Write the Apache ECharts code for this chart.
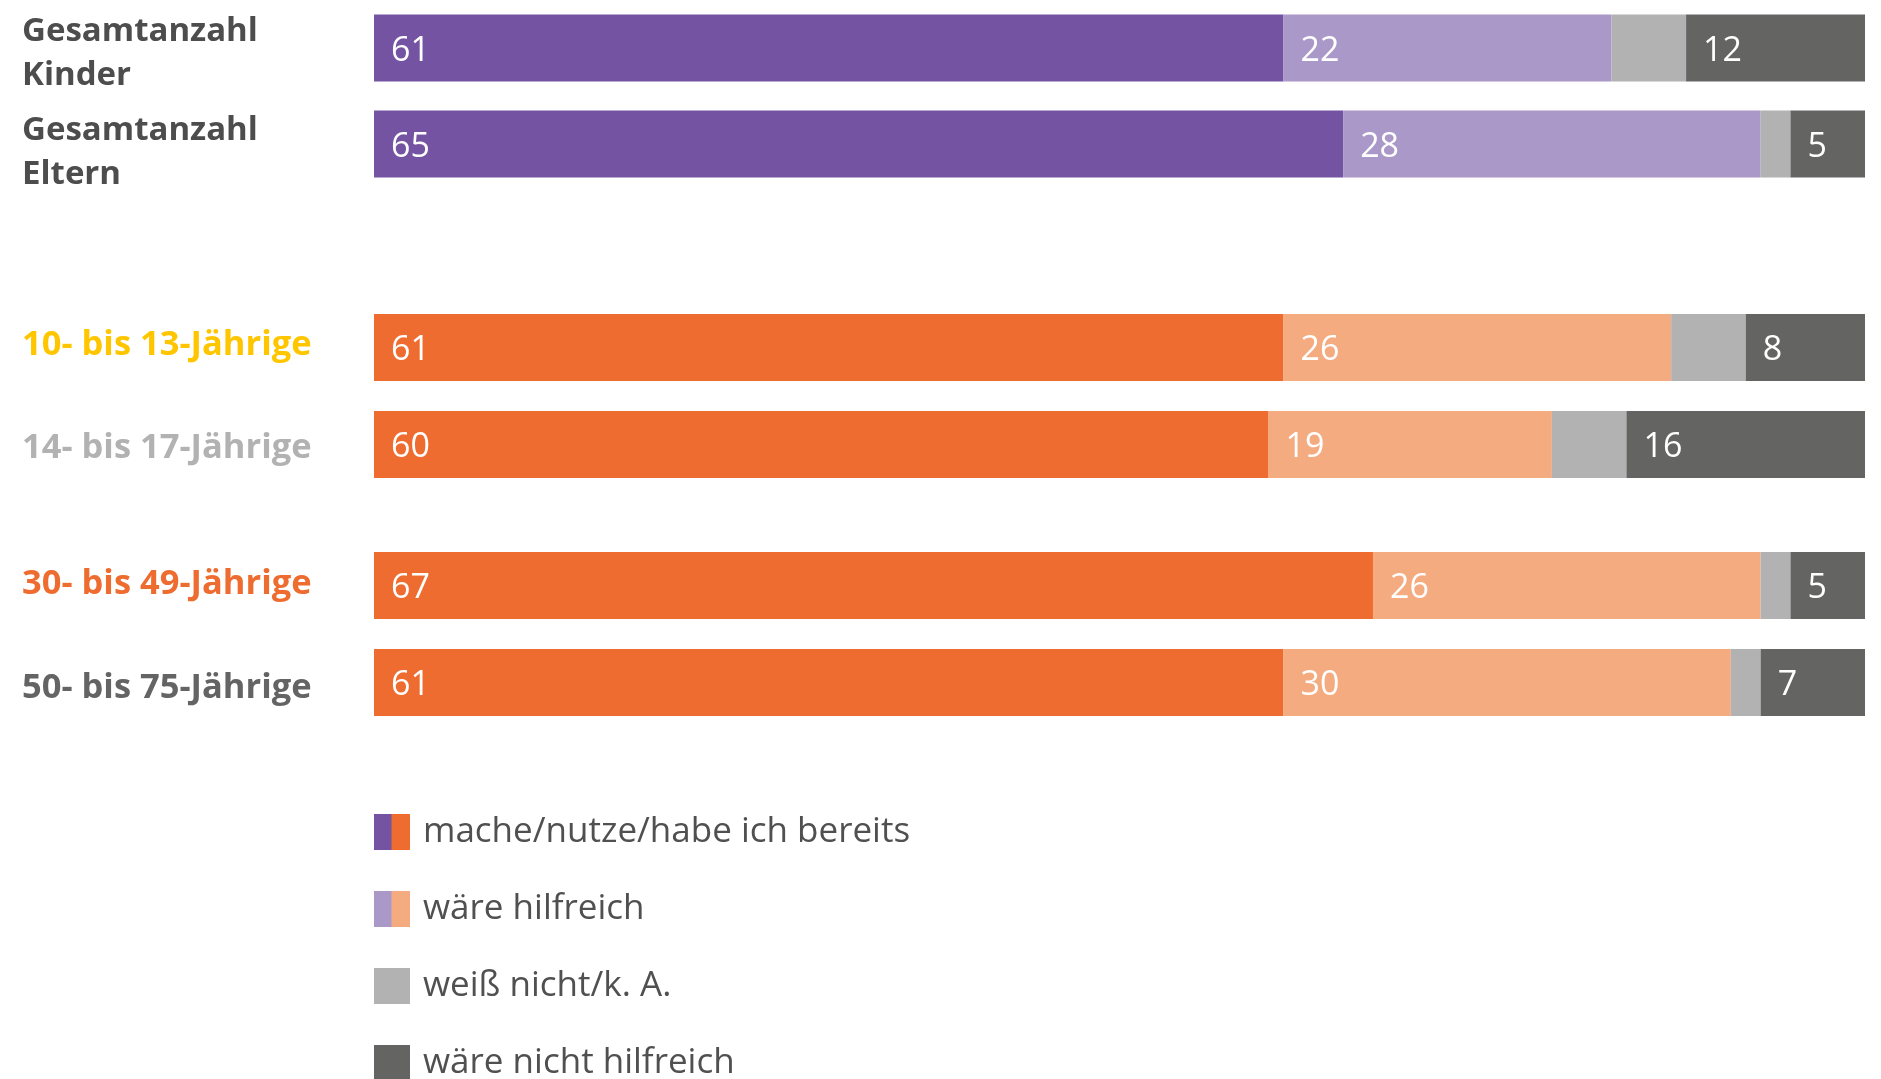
<!DOCTYPE html>
<html>
<head>
<meta charset="utf-8">
<title>Hilfsangebote</title>
<script src="https://cdn.jsdelivr.net/npm/echarts@6/dist/echarts.min.js"></script>
<style>
  html, body { margin: 0; padding: 0; background: #ffffff; }
  #chart { width: 1881px; height: 1079px; }
</style>
</head>
<body>
<div id="chart"></div>
<script>
// Response categories
const answers = ['mache/nutze/habe ich bereits', 'wäre hilfreich', 'weiß nicht/k. A.', 'wäre nicht hilfreich'];

// Group 1: totals
const totalCats = ['Gesamtanzahl\nKinder', 'Gesamtanzahl\nEltern'];
const totalUsed = [61, 65];
const totalHelpful = [22, 28];
const totalUnknown = [5, 2];
const totalNotHelpful = [12, 5];

// Group 2: children by age
const childCats = ['10- bis 13-Jährige', '14- bis 17-Jährige'];
const childUsed = [61, 60];
const childHelpful = [26, 19];
const childUnknown = [5, 5];
const childNotHelpful = [8, 16];

// Group 3: parents by age
const parentCats = ['30- bis 49-Jährige', '50- bis 75-Jährige'];
const parentUsed = [67, 61];
const parentHelpful = [26, 30];
const parentUnknown = [2, 2];
const parentNotHelpful = [5, 7];

const purple = '#7454A2', lightPurple = '#A998C8';
const orange = '#EE6C2F', lightOrange = '#F5AB80';
const grey = '#B2B2B2', darkGrey = '#646463';

const groups = [
  { cats: totalCats, values: [totalUsed, totalHelpful, totalUnknown, totalNotHelpful],
    colors: [purple, lightPurple, grey, darkGrey], labelColors: ['#4D4D4D', '#4D4D4D'],
    fontSize: 33, shift: [6, 9] },
  { cats: childCats, values: [childUsed, childHelpful, childUnknown, childNotHelpful],
    colors: [orange, lightOrange, grey, darkGrey], labelColors: ['#FFC600', '#B2B2B2'],
    fontSize: 34.5, shift: [-2, 4] },
  { cats: parentCats, values: [parentUsed, parentHelpful, parentUnknown, parentNotHelpful],
    colors: [orange, lightOrange, grey, darkGrey], labelColors: ['#EE6C2F', '#646464'],
    fontSize: 34.5, shift: [-1, 6] }
];

const gridTops = [-2, 299, 537];
const FONT = '"Open Sans", "Noto Sans", sans-serif';

function splitIcon(a, b) {
  const svg = '<svg xmlns="http://www.w3.org/2000/svg" width="36" height="36">' +
    '<rect x="0" y="0" width="18" height="36" fill="' + a + '"/>' +
    '<rect x="17.5" y="0" width="18.5" height="36" fill="' + b + '"/></svg>';
  return 'image://data:image/svg+xml;charset=utf-8,' + encodeURIComponent(svg);
}

// Per-row rich styles nudge each category label vertically
function labelRich(g) {
  const rich = {};
  g.cats.forEach((c, i) => {
    const d = g.shift[i];
    rich['r' + i] = {
      color: g.labelColors[i], fontFamily: FONT, fontWeight: 'bold',
      fontSize: g.fontSize, lineHeight: 44,
      padding: d >= 0 ? [2 * d, 0, 0, 0] : [0, 0, -2 * d, 0]
    };
  });
  return rich;
}

const grid = [], xAxis = [], yAxis = [], series = [];
groups.forEach((g, gi) => {
  grid.push({ left: 374, right: 16, top: gridTops[gi], height: 194, containLabel: false });
  xAxis.push({ type: 'value', gridIndex: gi, min: 0, max: 100, show: false });
  yAxis.push({
    type: 'category', gridIndex: gi, data: g.cats, inverse: true,
    axisLine: { show: false }, axisTick: { show: false }, splitLine: { show: false },
    axisLabel: {
      align: 'left', margin: 352,
      formatter: (v, i) => v.split('\n').map(line => '{r' + i + '|' + line + '}').join('\n'),
      rich: labelRich(g)
    }
  });
  answers.forEach((name, ai) => {
    series.push({
      type: 'bar', name: name, stack: 'g' + gi,
      xAxisIndex: gi, yAxisIndex: gi,
      barWidth: 67,
      data: g.values[ai],
      itemStyle: { color: g.colors[ai] },
      label: {
        show: ai !== 2, position: 'insideLeft', distance: 16, offset: [1, 3],
        color: '#ffffff', fontFamily: FONT, fontSize: 34
      },
      emphasis: { disabled: true }
    });
  });
});

const chart = echarts.init(document.getElementById('chart'));
chart.setOption({
  animation: false,
  grid, xAxis, yAxis, series,
  legend: {
    orient: 'vertical', left: 374, top: 814, height: 400, padding: 0,
    itemWidth: 36, itemHeight: 36, itemGap: 41,
    selectedMode: false,
    textStyle: { fontFamily: FONT, fontSize: 35, color: '#505050', padding: [0, 0, 0, 8] },
    data: [
      { name: answers[0], icon: splitIcon(purple, orange) },
      { name: answers[1], icon: splitIcon(lightPurple, lightOrange) },
      { name: answers[2], icon: 'rect' },
      { name: answers[3], icon: 'rect' }
    ]
  }
});
</script>
</body>
</html>
